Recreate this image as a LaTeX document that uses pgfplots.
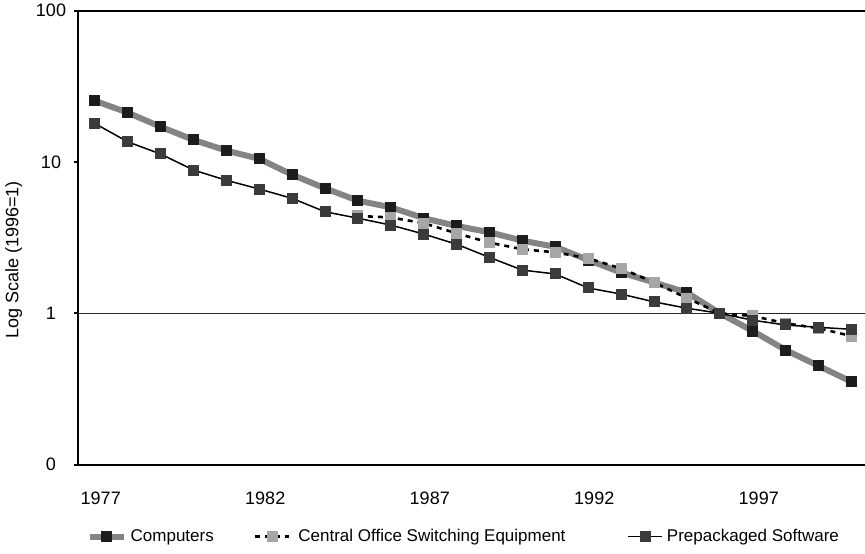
\documentclass[border=0pt]{standalone}
\usepackage{fontspec}
\setmainfont{Liberation Sans}
\usepackage{pgfplots}
\pgfplotsset{compat=1.18}

\definecolor{compline}{HTML}{848484}
\definecolor{compmark}{HTML}{1C1C1C}
\definecolor{comark}{HTML}{A6A6A6}
\definecolor{swmark}{HTML}{3B3B3B}

\begin{document}
\begin{tikzpicture}
\begin{semilogyaxis}[
    at={(0,0)}, anchor=south west,
    scale only axis,
    width=394.8bp, height=226.95bp,
    xmin=1976.5, xmax=2000.5,
    ymin=0.1, ymax=100,
    xtick={1977,1982,1987,1992,1997},
    xticklabels={1977,1982,1987,1992,1997},
    ytick={0.1,1,10,100},
    yticklabels={0,1,10,100},
    yminorticks=false,
    extra y ticks={1},
    extra y tick labels={},
    extra y tick style={grid=major, major grid style={draw=black!85, line width=0.8bp}, major tick length=0pt},
    ytick pos=left, xtick pos=bottom,
    tick align=outside,
    major tick length=2bp,
    xtick style={draw=none},
    ytick style={line width=1bp, black},
    axis line style={line width=1bp, black},
    /pgf/number format/assume math mode=true,
    tick label style={font=\fontsize{9bp}{10bp}\selectfont, text=black},
    xticklabel style={yshift=-8bp, xshift=3bp},
    yticklabel style={anchor=center, xshift=-11.65bp},
    ylabel={Log Scale (1996=1)},
    ylabel style={at={(axis description cs:-0.0818,0.4508)}, anchor=center, font=\fontsize{9bp}{10bp}\selectfont},
    legend columns=3,
    legend style={draw=none, fill=none, inner sep=0pt, outer sep=0pt,
        at={(axis description cs:0.0106,-0.1588)}, anchor=west,
        font=\fontsize{8.5bp}{10bp}\selectfont,
        /tikz/every even column/.append style={column sep=18bp}},
    clip=false,
]
\addplot[compline, line width=3bp, line join=round, mark=square*,
    mark size=2.5bp, mark options={solid, fill=compmark, draw=compmark, line width=0.5bp}] coordinates {
    (1977,25.4) (1978,21.2) (1979,17.1) (1980,14.0) (1981,11.9) (1982,10.5)
    (1983,8.24) (1984,6.70) (1985,5.55) (1986,5.02) (1987,4.25) (1988,3.78)
    (1989,3.43) (1990,3.02) (1991,2.75) (1992,2.25) (1993,1.86) (1994,1.60)
    (1995,1.37) (1996,1.00) (1997,0.764) (1998,0.572) (1999,0.449) (2000,0.353)
};
\addlegendentry{Computers}

\addplot[black, line width=1.3bp, dash pattern=on 2.5bp off 2.5bp, mark=square*,
    mark size=2.5bp, mark options={solid, fill=comark, draw=comark, line width=0.5bp}] coordinates {
    (1985,4.40) (1986,4.30) (1987,3.94) (1988,3.38) (1989,2.93) (1990,2.65)
    (1991,2.53) (1992,2.31) (1993,1.98) (1994,1.60) (1995,1.26) (1996,1.00)
    (1997,0.96) (1998,0.859) (1999,0.796) (2000,0.708)
};
\addlegendentry{\hspace*{2bp}Central Office Switching Equipment\hspace*{11bp}\mbox{}}

\addplot[black, line width=0.75bp, mark=square*,
    mark size=2.5bp, mark options={solid, fill=swmark, draw=swmark, line width=0.5bp}] coordinates {
    (1977,18.0) (1978,13.6) (1979,11.3) (1980,8.85) (1981,7.57) (1982,6.63)
    (1983,5.75) (1984,4.69) (1985,4.25) (1986,3.83) (1987,3.34) (1988,2.86)
    (1989,2.34) (1990,1.93) (1991,1.82) (1992,1.47) (1993,1.34) (1994,1.19)
    (1995,1.08) (1996,1.00) (1997,0.90) (1998,0.837) (1999,0.808) (2000,0.784)
};
\addlegendentry{Prepackaged Software}
\end{semilogyaxis}
\pgfresetboundingbox
\useasboundingbox (-39.15bp,-44.7bp) rectangle (393.35bp,232.3bp);
\end{tikzpicture}
\end{document}
